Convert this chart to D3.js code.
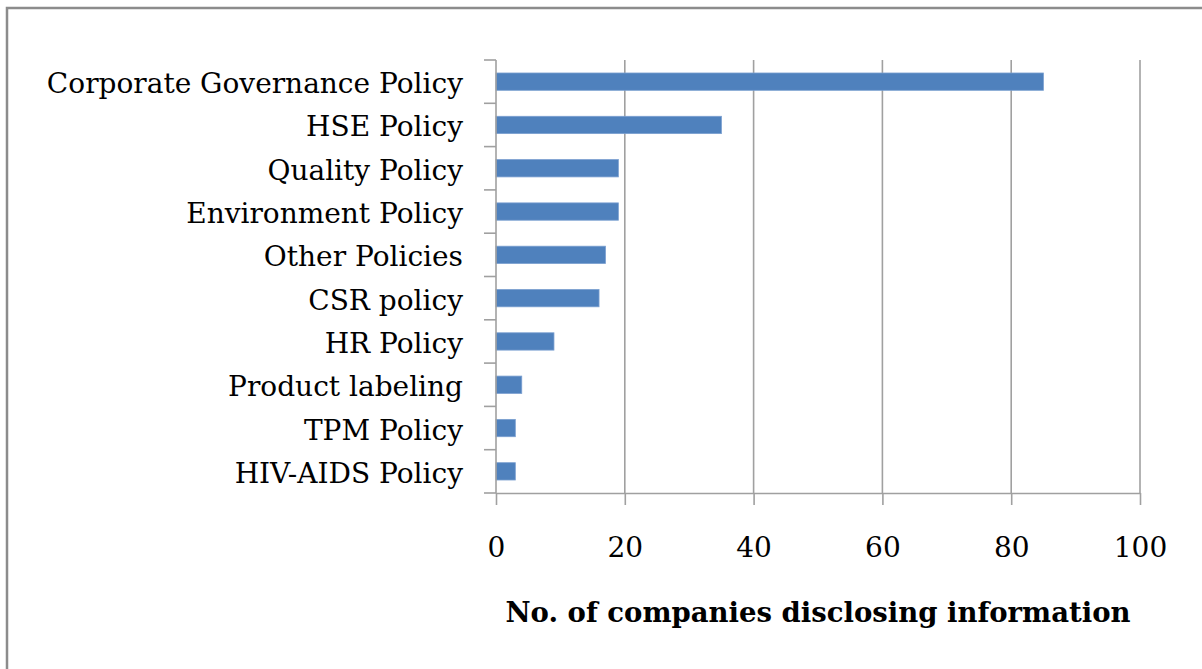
<!DOCTYPE html>
<html>
<head>
<meta charset="utf-8">
<script src="https://cdn.jsdelivr.net/npm/d3@7"></script>
<style>
  body { margin: 0; background: #fff; }
  text { font-family: "DejaVu Serif", "Liberation Serif", serif; fill: #000; }
</style>
</head>
<body>
<script>
// data
const categories = [
  "Corporate Governance Policy", "HSE Policy", "Quality Policy",
  "Environment Policy", "Other Policies", "CSR policy", "HR Policy",
  "Product labeling", "TPM Policy", "HIV-AIDS Policy"
];
const values = [85, 35, 19, 19, 17, 16, 9, 4, 3, 3];
const xTicks = [0, 20, 40, 60, 80, 100];
const xTitle = "No. of companies disclosing information";

const width = 1202;
const height = 669;
const margin = {top: 60, right: 62, bottom: 176, left: 496};
const gridColor = '#a0a0a0';

const svg = d3.select('body').append('svg')
  .attr('width', width)
  .attr('height', height);

// outer frame (only left & top visible in the picture)
svg.append('path')
  .attr('d', `M7,${height}L7,8L${width},8`)
  .attr('fill', 'none')
  .attr('stroke', '#8c8c8c')
  .attr('stroke-width', 2.5);

const x = d3.scaleLinear().domain([0, 100]).range([margin.left, width - margin.right]);
const y = d3.scaleBand().domain(categories)
  .range([margin.top, height - margin.bottom])
  .paddingInner(0.6).paddingOuter(0.3);

const g = svg.append('g');

// vertical gridlines
g.selectAll('line.grid')
  .data(xTicks.slice(1))
  .join('line')
  .attr('class', 'grid')
  .attr('x1', d => x(d)).attr('x2', d => x(d))
  .attr('y1', margin.top).attr('y2', height - margin.bottom)
  .attr('stroke', gridColor)
  .attr('stroke-width', 1.6);

// bars
g.selectAll('rect.bar')
  .data(categories)
  .join('rect')
  .attr('class', 'bar')
  .attr('x', x(0))
  .attr('y', d => y(d))
  .attr('width', (d, i) => x(values[i]) - x(0))
  .attr('height', y.bandwidth())
  .attr('fill', '#4f81bd')
  .attr('stroke', '#7a9fd0')
  .attr('stroke-width', 0.8);

// x axis
const xAxis = svg.append('g')
  .attr('transform', `translate(0,${height - margin.bottom})`)
  .call(d3.axisBottom(x).tickValues(xTicks).tickSize(12).tickPadding(32).tickSizeOuter(0));
xAxis.select('.domain').attr('stroke', gridColor).attr('stroke-width', 1.6);
xAxis.selectAll('.tick line').attr('stroke', gridColor).attr('stroke-width', 1.6);
xAxis.selectAll('.tick text')
  .style('font-family', '"DejaVu Serif", serif')
  .style('font-size', '28px')
  .attr('fill', '#000');

// y axis: category boundaries get tick marks
const step = y.step();
const bounds = d3.range(categories.length + 1).map(i => margin.top + i * step);
svg.append('line')
  .attr('x1', x(0)).attr('x2', x(0))
  .attr('y1', margin.top).attr('y2', height - margin.bottom)
  .attr('stroke', gridColor).attr('stroke-width', 1.6);
svg.selectAll('line.ytick')
  .data(bounds)
  .join('line')
  .attr('class', 'ytick')
  .attr('x1', x(0) - 12).attr('x2', x(0))
  .attr('y1', d => d).attr('y2', d => d)
  .attr('stroke', gridColor).attr('stroke-width', 1.6);

// category labels
svg.selectAll('text.cat')
  .data(categories)
  .join('text')
  .attr('class', 'cat')
  .attr('x', x(0) - 33)
  .attr('y', d => y(d) + y.bandwidth() / 2 + 11.5)
  .attr('text-anchor', 'end')
  .style('font-size', '28px')
  .text(d => d);

// axis title
svg.append('text')
  .attr('x', (x(0) + x(100)) / 2)
  .attr('y', 622)
  .attr('text-anchor', 'middle')
  .style('font-size', '27.5px')
  .style('font-weight', 'bold')
  .text(xTitle);
</script>
</body>
</html>
